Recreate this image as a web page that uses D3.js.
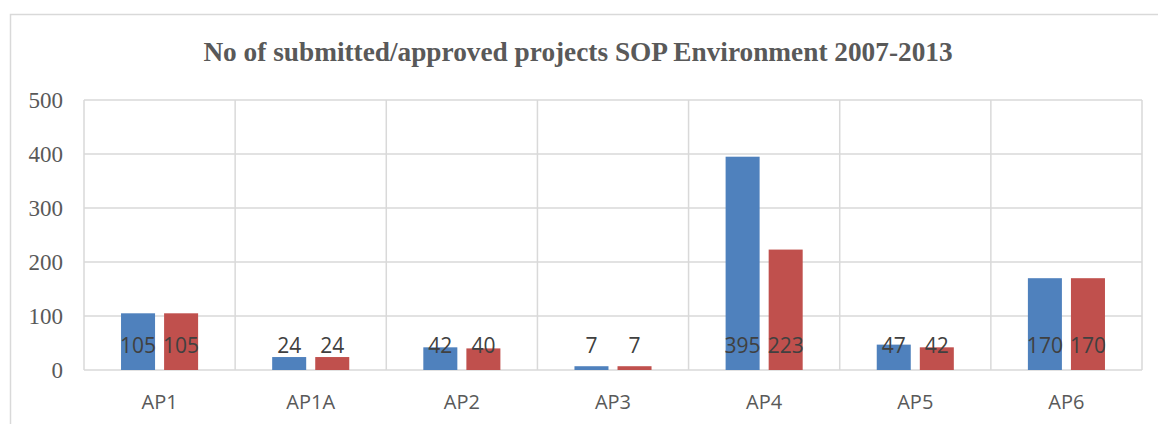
<!DOCTYPE html>
<html>
<head>
<meta charset="utf-8">
<script src="https://cdn.jsdelivr.net/npm/d3@7/dist/d3.min.js"></script>
<style>
  body { margin: 0; background: #fff; }
  svg { display: block; }
</style>
</head>
<body>
<svg width="1158" height="424"></svg>
<script>
'use strict'

var title = 'No of submitted/approved projects SOP Environment 2007-2013'
var categories = ['AP1', 'AP1A', 'AP2', 'AP3', 'AP4', 'AP5', 'AP6']
var seriesNames = ['Submitted', 'Approved']
var submitted = [105, 24, 42, 7, 395, 47, 170]
var approved = [105, 24, 40, 7, 223, 42, 170]
var yTicks = [0, 100, 200, 300, 400, 500]

var colours = { Submitted: '#4f81bd', Approved: '#c0504d' }

var svg = d3.select('svg'),
  width = +svg.attr('width'),
  height = +svg.attr('height')

var plot = { left: 84, right: 1142, top: 100, bottom: 370 }

// chart frame (only top and left edges show in the picture)
svg.append('path')
  .attr('d', 'M10.5,' + height + 'V14.5H' + width)
  .attr('fill', 'none')
  .attr('stroke', '#d9d9d9')
  .attr('stroke-width', 1.5)

svg.append('text')
  .text(title)
  .attr('x', 578)
  .attr('y', 61)
  .attr('text-anchor', 'middle')
  .style('font-family', '"Liberation Serif", "Times New Roman", serif')
  .style('font-weight', 'bold')
  .style('font-size', '27.3px')
  .style('fill', '#595959')

var x = d3.scaleBand()
  .domain(categories)
  .range([plot.left, plot.right])

var xInner = d3.scaleBand()
  .domain(seriesNames)
  .range([0, x.bandwidth()])
  .paddingInner(0.21)
  .paddingOuter(0.86)

var y = d3.scaleLinear()
  .domain([0, 500])
  .range([plot.bottom, plot.top])

var grid = svg.append('g').attr('class', 'grid')

grid.selectAll('line.h')
  .data(yTicks)
  .enter().append('line')
  .attr('class', 'h')
  .attr('x1', plot.left)
  .attr('x2', plot.right)
  .attr('y1', function(d) { return y(d) })
  .attr('y2', function(d) { return y(d) })
  .attr('stroke', '#d9d9d9')
  .attr('stroke-width', 1.5)

grid.selectAll('line.v')
  .data(categories.concat(['end']))
  .enter().append('line')
  .attr('class', 'v')
  .attr('x1', function(d) { return d == 'end' ? plot.right : x(d) })
  .attr('x2', function(d) { return d == 'end' ? plot.right : x(d) })
  .attr('y1', plot.top)
  .attr('y2', plot.bottom)
  .attr('stroke', '#d9d9d9')
  .attr('stroke-width', 1.5)

// y tick labels
svg.append('g')
  .selectAll('text')
  .data(yTicks)
  .enter().append('text')
  .text(function(d) { return d })
  .attr('x', 63)
  .attr('y', function(d) { return y(d) })
  .attr('dy', '0.35em')
  .attr('text-anchor', 'end')
  .style('font-family', '"Liberation Serif", "Times New Roman", serif')
  .style('font-size', '23px')
  .style('fill', '#595959')

// x category labels
svg.append('g')
  .selectAll('text')
  .data(categories)
  .enter().append('text')
  .text(function(d) { return d })
  .attr('x', function(d) { return x(d) + x.bandwidth() / 2 })
  .attr('y', 409)
  .attr('text-anchor', 'middle')
  .style('font-family', '"Open Sans", "Liberation Sans", sans-serif')
  .style('font-size', '20px')
  .style('fill', '#595959')

var rows = categories.map(function(c, i) {
  return { category: c, values: [
    { name: 'Submitted', value: submitted[i] },
    { name: 'Approved', value: approved[i] }
  ] }
})

var group = svg.append('g')
  .selectAll('g')
  .data(rows)
  .enter().append('g')
  .attr('transform', function(d) { return 'translate(' + x(d.category) + ',0)' })

group.selectAll('rect')
  .data(function(d) { return d.values })
  .enter().append('rect')
  .attr('x', function(d) { return xInner(d.name) })
  .attr('width', xInner.bandwidth())
  .attr('y', function(d) { return y(d.value) })
  .attr('height', function(d) { return y(0) - y(d.value) })
  .attr('fill', function(d) { return colours[d.name] })

group.selectAll('text')
  .data(function(d) { return d.values })
  .enter().append('text')
  .text(function(d) { return d.value })
  .attr('x', function(d) { return xInner(d.name) + xInner.bandwidth() / 2 })
  .attr('y', y(0) - 17)
  .attr('text-anchor', 'middle')
  .style('font-family', '"Open Sans", "Liberation Sans", sans-serif')
  .style('font-size', '21px')
  .style('fill', '#404040')
</script>
</body>
</html>
